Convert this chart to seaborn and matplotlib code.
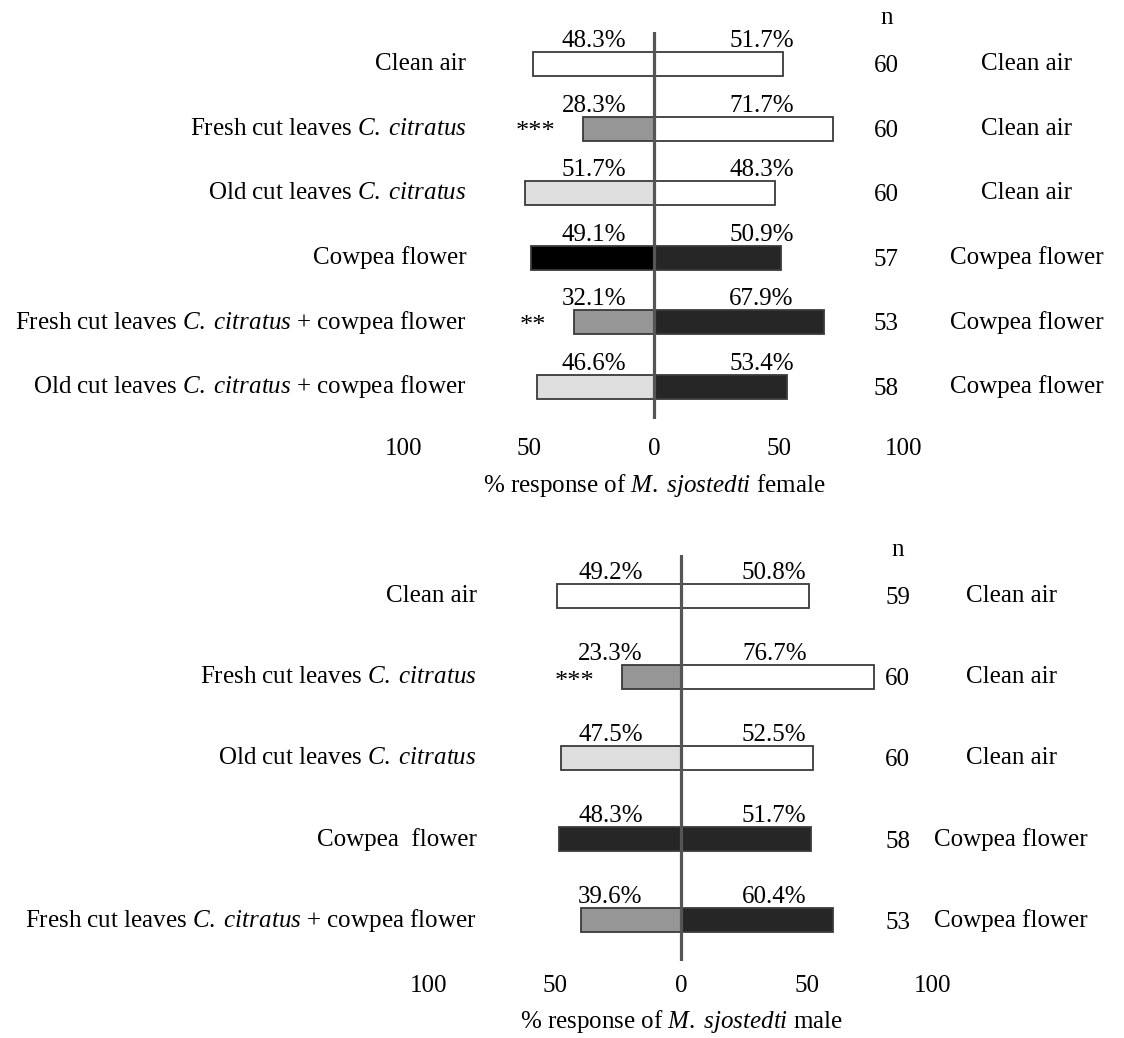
"""
Olfactometer response of M. sjostedti (female / male) as back-to-back bars.
Writes out.png.
"""
import matplotlib
matplotlib.use("Agg")
import matplotlib.pyplot as plt
import numpy as np
import pandas as pd
import seaborn as sns

# ---- data -----------------------------------------------------------------
CC = r"$\mathit{C.\;citratus}$"

female_treatments = [
    "Clean air",
    f"Fresh cut leaves {CC}",
    f"Old cut leaves {CC}",
    "Cowpea flower",
    f"Fresh cut leaves {CC} + cowpea flower",
    f"Old cut leaves {CC} + cowpea flower",
]
female_controls = ["Clean air", "Clean air", "Clean air",
                   "Cowpea flower", "Cowpea flower", "Cowpea flower"]
female_treat_pct = [48.3, 28.3, 51.7, 49.1, 32.1, 46.6]
female_ctrl_pct = [51.7, 71.7, 48.3, 50.9, 67.9, 53.4]
female_n = [60, 60, 60, 57, 53, 58]
female_sig = ["", "***", "", "", "**", ""]
female_treat_colors = ["white", "#969696", "#dedede", "black", "#969696", "#dedede"]
female_ctrl_colors = ["white", "white", "white", "#262626", "#262626", "#262626"]

male_treatments = [
    "Clean air",
    f"Fresh cut leaves {CC}",
    f"Old cut leaves {CC}",
    "Cowpea  flower",
    f"Fresh cut leaves {CC} + cowpea flower",
]
male_controls = ["Clean air", "Clean air", "Clean air",
                 "Cowpea flower", "Cowpea flower"]
male_treat_pct = [49.2, 23.3, 47.5, 48.3, 39.6]
male_ctrl_pct = [50.8, 76.7, 52.5, 51.7, 60.4]
male_n = [59, 60, 60, 58, 53]
male_sig = ["", "***", "", "", ""]
male_treat_colors = ["white", "#969696", "#dedede", "#262626", "#969696"]
male_ctrl_colors = ["white", "white", "white", "#262626", "#262626"]

tick_values = [-100, -50, 0, 50, 100]
tick_labels = ["100", "50", "0", "50", "100"]

# ---- style ----------------------------------------------------------------
sns.set_theme(style="white")
plt.rcParams["font.family"] = ["Liberation Serif", "DejaVu Serif"]
plt.rcParams["mathtext.fontset"] = "custom"
plt.rcParams["mathtext.rm"] = "Liberation Serif"
plt.rcParams["mathtext.it"] = "Liberation Serif:italic"
plt.rcParams["text.color"] = "black"
plt.rcParams["xtick.color"] = "black"
plt.rcParams["axes.labelcolor"] = "black"

FS = 18
EDGE = "#3a3a3a"


def draw_panel(ax, treatments, controls, treat, ctrl, n, sig, t_colors, c_colors,
               xlabel, bar_h, treat_lab_x, ctrl_lab_x, name_x, n_x, ctrl_name_x, n_head_y,
               tick_pad):
    rows = list(range(len(treat)))
    df = pd.DataFrame({"row": rows,
                       "treat": -np.asarray(treat),
                       "ctrl": np.asarray(ctrl)})

    for col, pal in (("treat", t_colors), ("ctrl", c_colors)):
        sns.barplot(data=df, x=col, y="row", hue="row", palette=pal, orient="h",
                    dodge=False, legend=False, width=bar_h, saturation=1,
                    errorbar=None, edgecolor=EDGE, linewidth=1.3, ax=ax)

    ax.axvline(0, color="#555555", lw=2.3, zorder=5)
    ax.set_xlim(-100, 100)
    ax.set_ylim(len(rows) - 0.5, -0.5)

    # percentages above the bars
    for r, tv, cv in zip(rows, treat, ctrl):
        top = r - bar_h / 2
        ax.annotate(f"{tv:.1f}%", (treat_lab_x, top), xytext=(0, 0),
                    textcoords="offset points", ha="center", va="bottom", fontsize=FS)
        ax.annotate(f"{cv:.1f}%", (ctrl_lab_x, top), xytext=(0, 0),
                    textcoords="offset points", ha="center", va="bottom", fontsize=FS)

    # labels left / right of the plot
    for r, t_name, c_name, nv, s, tv in zip(rows, treatments, controls, n, sig, treat):
        ax.text(name_x, r, t_name, ha="right", va="center", fontsize=FS, clip_on=False)
        ax.text(n_x, r + 0.03, str(nv), ha="center", va="center", fontsize=FS, clip_on=False)
        ax.text(ctrl_name_x, r, c_name, ha="center", va="center", fontsize=FS, clip_on=False)
        if s:
            ax.text(-tv - 11, r + 0.06, s, ha="right", va="center", fontsize=FS + 1)
    ax.text(n_x, n_head_y, "n", ha="center", va="center", fontsize=FS, clip_on=False)

    ax.set_yticks([])
    ax.set_ylabel("")
    ax.set_xticks(tick_values)
    ax.set_xticklabels(tick_labels, fontsize=FS)
    ax.tick_params(axis="x", length=0, pad=tick_pad)
    ax.set_xlabel(xlabel, fontsize=FS, labelpad=8)
    sns.despine(ax=ax, left=True, bottom=True)


fig = plt.figure(figsize=(11.24, 10.38), dpi=100)
ax_f = fig.add_axes([0.3594, 0.5963, 0.4448, 0.3731])
ax_m = fig.add_axes([0.3817, 0.0742, 0.4484, 0.3911])

draw_panel(ax_f, female_treatments, female_controls, female_treat_pct, female_ctrl_pct,
           female_n, female_sig, female_treat_colors, female_ctrl_colors,
           r"% response of $\mathit{M.\;sjostedti}$ female", bar_h=0.37,
           treat_lab_x=-24, ctrl_lab_x=43, name_x=-75, n_x=93, ctrl_name_x=149,
           n_head_y=-0.71, tick_pad=14)

draw_panel(ax_m, male_treatments, male_controls, male_treat_pct, male_ctrl_pct,
           male_n, male_sig, male_treat_colors, male_ctrl_colors,
           r"% response of $\mathit{M.\;sjostedti}$ male", bar_h=0.295,
           treat_lab_x=-28, ctrl_lab_x=37, name_x=-81, n_x=86, ctrl_name_x=131,
           n_head_y=-0.56, tick_pad=10)

fig.savefig("out.png", dpi=100)
plt.close(fig)
